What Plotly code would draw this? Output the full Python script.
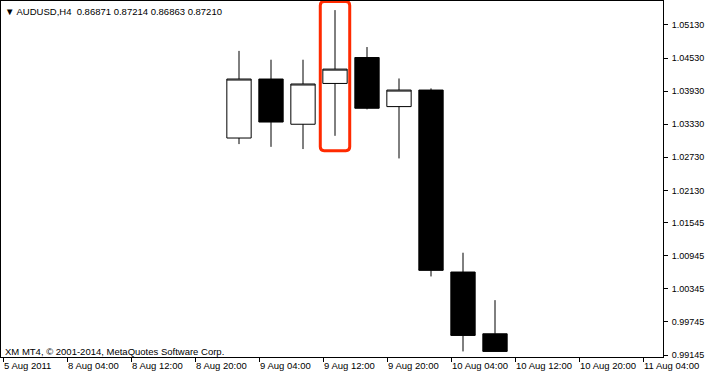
import pandas as pd
import plotly.graph_objects as go

# ---------------- data ----------------
symbol = "AUDUSD,H4"
header_prices = ["0.86871", "0.87214", "0.86863", "0.87210"]
copyright_text = "XM MT4, © 2001-2014, MetaQuotes Software Corp."

bar_times = ["2011-08-09 00:00", "2011-08-09 04:00", "2011-08-09 08:00",
             "2011-08-09 12:00", "2011-08-09 16:00", "2011-08-09 20:00",
             "2011-08-10 00:00", "2011-08-10 04:00", "2011-08-10 08:00"]
opens  = [1.0308, 1.0415, 1.0333, 1.0407, 1.0454, 1.0365, 1.0395, 1.0065, 0.9953]
highs  = [1.0466, 1.0450, 1.0450, 1.0540, 1.0473, 1.0416, 1.0398, 1.0100, 1.0014]
lows   = [1.0297, 1.0292, 1.0288, 1.0312, 1.0360, 1.0271, 1.0057, 0.9921, 0.9921]
closes = [1.0415, 1.0337, 1.0406, 1.0433, 1.0362, 1.0395, 1.0068, 0.9950, 0.9921]

tick_times = ["2011-08-05 20:00", "2011-08-08 04:00", "2011-08-08 12:00",
              "2011-08-08 20:00", "2011-08-09 04:00", "2011-08-09 12:00",
              "2011-08-09 20:00", "2011-08-10 04:00", "2011-08-10 12:00",
              "2011-08-10 20:00", "2011-08-11 04:00"]
tick_labels = ["5 Aug 2011", "8 Aug 04:00", "8 Aug 12:00", "8 Aug 20:00",
               "9 Aug 04:00", "9 Aug 12:00", "9 Aug 20:00", "10 Aug 04:00",
               "10 Aug 12:00", "10 Aug 20:00", "11 Aug 04:00"]
price_labels = ["1.05130", "1.04530", "1.03930", "1.03330", "1.02730", "1.02130",
                "1.01545", "1.00945", "1.00345", "0.99745", "0.99145"]

highlight_time = "2011-08-09 12:00"

# ---------------- trading calendar (H4 bars, weekends skipped) ----------------
all_slots = pd.date_range("2011-08-05 20:00", "2011-08-11 20:00", freq="4h")
trading = [t for t in all_slots if t.weekday() < 5]
slot_of = {t: i for i, t in enumerate(trading)}

CANDLE_SHIFT = 0.375  # MT4 draws the bar a little right of its time mark
bar_x = [slot_of[pd.Timestamp(t)] + CANDLE_SHIFT for t in bar_times]
tick_x = [slot_of[pd.Timestamp(t)] for t in tick_times]

X_RANGE = [-0.0625, 20.625]
Y_RANGE = [0.99109, 1.05565]

FONT = "Liberation Sans"

fig = go.Figure()
fig.add_trace(go.Candlestick(
    x=bar_x, open=opens, high=highs, low=lows, close=closes,
    increasing=dict(line=dict(color="black", width=1), fillcolor="white"),
    decreasing=dict(line=dict(color="black", width=1), fillcolor="black"),
    whiskerwidth=0, showlegend=False, hoverinfo="skip",
))

# red highlight box around the 9 Aug 12:00 candle
hi = bar_times.index(highlight_time)
xc = bar_x[hi]
bx0, bx1 = xc - 0.46, xc + 0.46
by0 = lows[hi] - 0.0027
by1 = Y_RANGE[1] - 0.0001
rx, ry = 0.12, 0.0007
path = (f"M {bx0},{by1-ry} L {bx0},{by0+ry} Q {bx0},{by0} {bx0+rx},{by0} "
        f"L {bx1-rx},{by0} Q {bx1},{by0} {bx1},{by0+ry} "
        f"L {bx1},{by1-ry} Q {bx1},{by1} {bx1-rx},{by1} "
        f"L {bx0+rx},{by1} Q {bx0},{by1} {bx0},{by1-ry} Z")
fig.add_shape(type="path", path=path, xref="x", yref="y",
              line=dict(color="#ff2a00", width=3), layer="above")

header = "▼ " + symbol + "\u00a0\u00a0" + " ".join(header_prices)
fig.add_annotation(text=header, xref="paper", yref="paper", x=0, y=1,
                   xanchor="left", yanchor="middle", xshift=2, yshift=-10.5,
                   showarrow=False, font=dict(family=FONT, size=9.5, color="black"))
fig.add_annotation(text=copyright_text, xref="paper", yref="paper", x=0, y=0,
                   xanchor="left", yanchor="middle", xshift=2, yshift=6,
                   showarrow=False, font=dict(family=FONT, size=9.5, color="black"))

fig.update_layout(
    width=707, height=376,
    margin=dict(l=1, r=44, t=1, b=19),
    paper_bgcolor="white", plot_bgcolor="white",
    boxgap=0.24, boxgroupgap=0,
    font=dict(family=FONT, size=9.5, color="black"),
    showlegend=False,
    xaxis=dict(range=X_RANGE, showgrid=False, zeroline=False,
               showline=True, mirror=True, linecolor="black", linewidth=1,
               ticks="outside", ticklen=4, tickcolor="black", tickwidth=1,
               tickvals=tick_x, ticktext=tick_labels, tickangle=0,
               ticklabelposition="outside right",
               tickfont=dict(family=FONT, size=9.5, color="black"),
               rangeslider=dict(visible=False), fixedrange=True),
    yaxis=dict(range=Y_RANGE, side="right", showgrid=False, zeroline=False,
               showline=True, mirror=True, linecolor="black", linewidth=1,
               ticks="outside", ticklen=4, tickcolor="black", tickwidth=1,
               tickvals=[float(v) for v in price_labels], ticktext=price_labels,
               ticklabelstandoff=2,
               tickfont=dict(family=FONT, size=9, color="black"),
               fixedrange=True),
)

fig.write_html("out.html", config={"displayModeBar": False},
               post_script="document.body.style.margin='0';document.body.style.padding='0';")
